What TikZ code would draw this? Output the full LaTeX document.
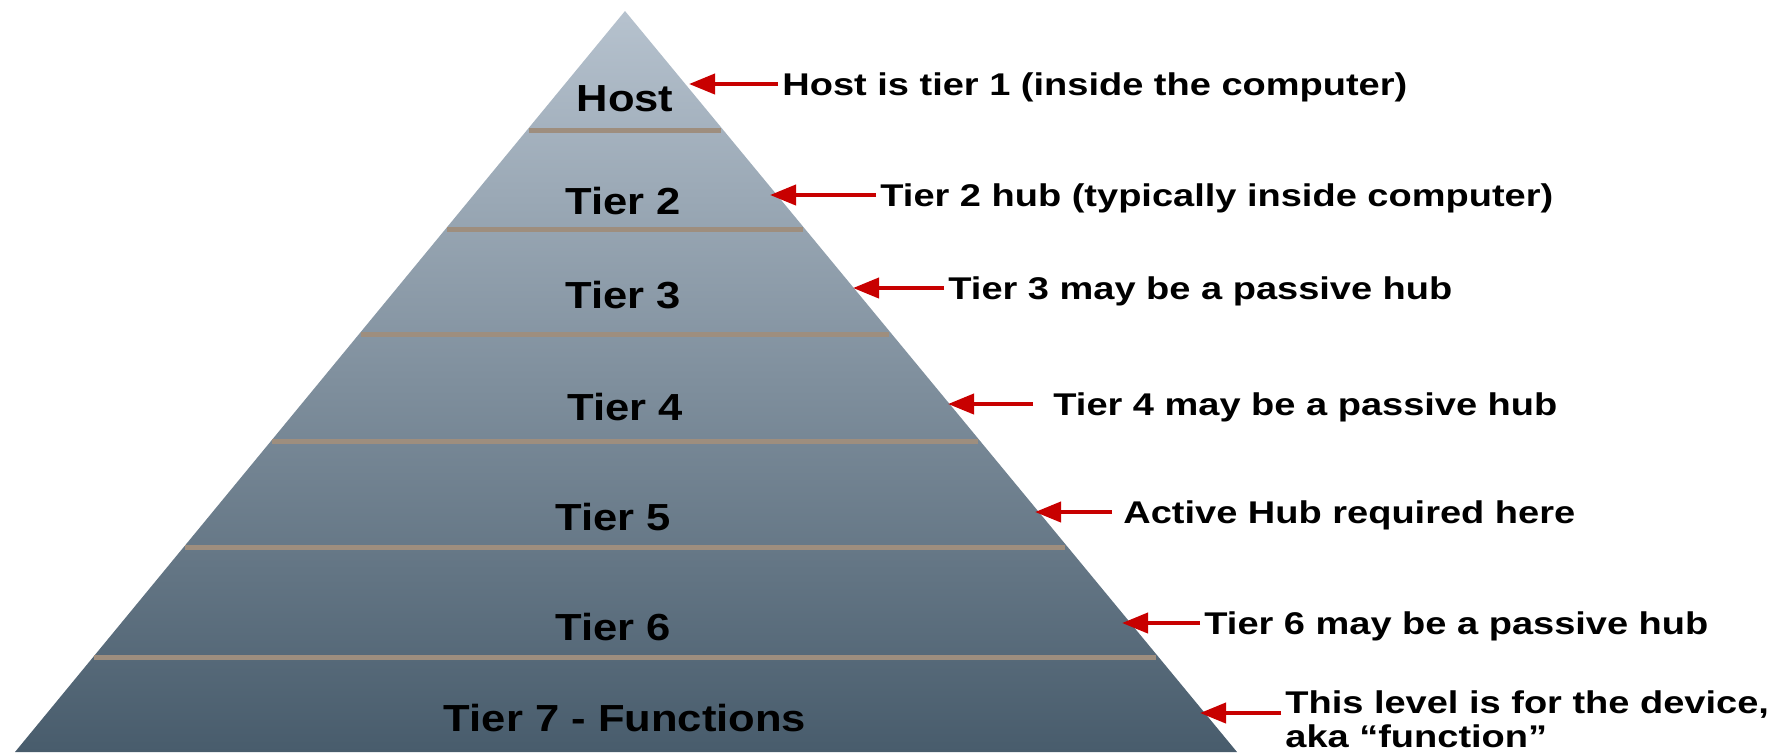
\documentclass[tikz,border=0pt]{standalone}
\usepackage{fontspec}
\setmainfont{Liberation Sans}
\newfontfamily\tierfont{Liberation Sans}[FakeStretch=1.155]
\newfontfamily\notefont{Liberation Sans}[FakeStretch=1.21]
\usetikzlibrary{arrows.meta, positioning}

\definecolor{pyrtop}{RGB}{182,194,206}
\definecolor{pyrbottom}{RGB}{72,92,108}
\definecolor{linebrown}{RGB}{158,142,126}
\definecolor{arrowred}{RGB}{200,0,0}

\begin{document}
\begin{tikzpicture}[x=0.5pt, y=-0.5pt,
        tierlabel/.style={font=\tierfont\fontsize{18.85}{22}\selectfont\bfseries, inner sep=0pt, text height=13.5pt, text depth=0pt},
        note/.style={font=\notefont\fontsize{15.7}{18}\selectfont\bfseries, anchor=west, inner ysep=0pt, inner xsep=2pt, text height=11.25pt, text depth=0pt},
        pointer/.style={-{Triangle[length=13pt, width=10pt]}, line width=2pt, draw=arrowred},
        divider/.style={line width=2.5pt, draw=linebrown}
    ]
        \useasboundingbox (0,0) rectangle (1788,752);

        % Pyramid
        \begin{scope}
            \clip (0,0) rectangle (1788,752);
            \shade[top color=pyrtop, bottom color=pyrbottom] (625,11) -- (15,752) -- (1237,752) -- cycle;
        \end{scope}
        \foreach \y in {130,229,334,441,547,657}
            \draw[divider] ({625-(\y-11)*0.8246+2},\y) -- ({625+(\y-11)*0.8246-2},\y);

        % Tiers
        \node[tierlabel] (host) at (625,98) {Host};
        \node[tierlabel] (tier2) at (623,201) {Tier 2};
        \node[tierlabel] (tier3) at (623,295) {Tier 3};
        \node[tierlabel] (tier4) at (625,407) {Tier 4};
        \node[tierlabel] (tier5) at (613,517) {Tier 5};
        \node[tierlabel] (tier6) at (613,627) {Tier 6};
        \node[tierlabel] (tier7) at (625,718) {Tier 7 - Functions};

        % Arrow tips on the slope
        \coordinate (tip1) at (689,84);
        \coordinate (tip2) at (770,195);
        \coordinate (tip3) at (853,288);
        \coordinate (tip4) at (948,404);
        \coordinate (tip5) at (1035,512);
        \coordinate (tip6) at (1122,623);
        \coordinate (tip7) at (1200,713);

        % Notes
        \node[note] (n1) at (778,84) {Host is tier 1 (inside the computer)};
        \node[note] (n2) at (876,195) {Tier 2 hub (typically inside computer)};
        \node[note] (n3) at (944,288) {Tier 3 may be a passive hub};
        \node[note] (n4) at (1049,404) {Tier 4 may be a passive hub};
        \node[note] (n5) at (1119,512) {Active Hub required here};
        \node[note] (n6) at (1200,623) {Tier 6 may be a passive hub};
        \node[note] (n7) at (1281,702) {This level is for the device,};
        \node[note, below=5.5pt of n7.south west, anchor=north west] (n7b) {aka “function”};

        \draw[pointer] (n1.west) -- (tip1);
        \draw[pointer] (n2.west) -- (tip2);
        \draw[pointer] (n3.west) -- (tip3);
        \draw[pointer, shorten <=8pt] (n4.west) -- (tip4);
        \draw[pointer, shorten <=3.5pt] (n5.west) -- (tip5);
        \draw[pointer] (n6.west) -- (tip6);
        \draw[pointer] ([yshift=-5.5pt]n7.west) -- (tip7);
    \end{tikzpicture}
\end{document}
